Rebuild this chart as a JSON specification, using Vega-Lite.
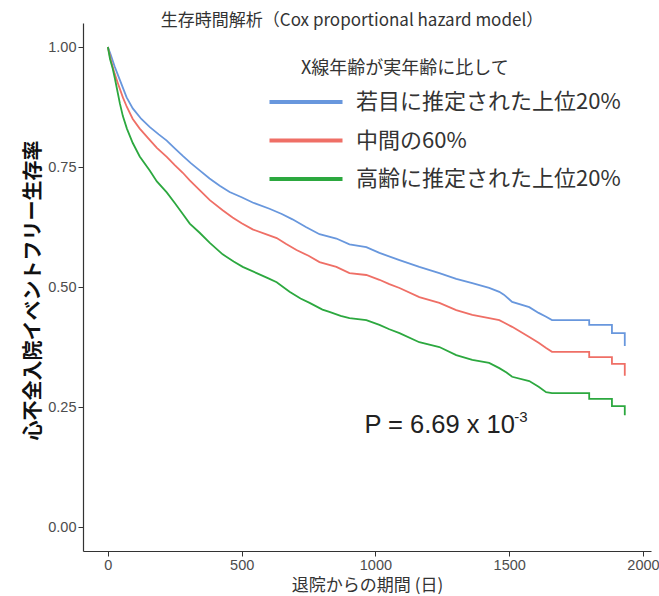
{
  "$schema": "https://vega.github.io/schema/vega-lite/v6.json",
  "width": 568,
  "height": 528,
  "autosize": {"type": "none"},
  "padding": {"left": 83, "top": 23, "right": 8, "bottom": 45},
  "background": "white",
  "config": {"view": {"stroke": null}},
  "title": {
    "text": "生存時間解析（Cox proportional hazard model）",
    "font": "Noto Sans CJK JP",
    "fontSize": 17,
    "fontWeight": "normal",
    "color": "#333333",
    "anchor": "middle",
    "frame": "group",
    "dx": -15,
    "baseline": "middle",
    "offset": -15
  },
  "datasets": {
    "km": [
      {"g": "若目に推定された上位20%", "i": 1, "t": 0, "s": 1.0},
      {"g": "若目に推定された上位20%", "i": 2, "t": 10, "s": 0.985},
      {"g": "若目に推定された上位20%", "i": 3, "t": 25, "s": 0.96},
      {"g": "若目に推定された上位20%", "i": 4, "t": 45, "s": 0.931},
      {"g": "若目に推定された上位20%", "i": 5, "t": 70, "s": 0.895},
      {"g": "若目に推定された上位20%", "i": 6, "t": 93, "s": 0.872},
      {"g": "若目に推定された上位20%", "i": 7, "t": 125, "s": 0.85},
      {"g": "若目に推定された上位20%", "i": 8, "t": 157, "s": 0.833},
      {"g": "若目に推定された上位20%", "i": 9, "t": 190, "s": 0.818},
      {"g": "若目に推定された上位20%", "i": 10, "t": 220, "s": 0.805},
      {"g": "若目に推定された上位20%", "i": 11, "t": 250, "s": 0.789},
      {"g": "若目に推定された上位20%", "i": 12, "t": 280, "s": 0.773},
      {"g": "若目に推定された上位20%", "i": 13, "t": 310, "s": 0.758},
      {"g": "若目に推定された上位20%", "i": 14, "t": 343, "s": 0.743},
      {"g": "若目に推定された上位20%", "i": 15, "t": 380, "s": 0.726},
      {"g": "若目に推定された上位20%", "i": 16, "t": 418, "s": 0.711},
      {"g": "若目に推定された上位20%", "i": 17, "t": 455, "s": 0.698},
      {"g": "若目に推定された上位20%", "i": 18, "t": 500, "s": 0.687},
      {"g": "若目に推定された上位20%", "i": 19, "t": 541, "s": 0.676},
      {"g": "若目に推定された上位20%", "i": 20, "t": 604, "s": 0.663},
      {"g": "若目に推定された上位20%", "i": 21, "t": 650, "s": 0.652},
      {"g": "若目に推定された上位20%", "i": 22, "t": 690, "s": 0.641},
      {"g": "若目に推定された上位20%", "i": 23, "t": 740, "s": 0.625},
      {"g": "若目に推定された上位20%", "i": 24, "t": 791, "s": 0.61},
      {"g": "若目に推定された上位20%", "i": 25, "t": 854, "s": 0.601},
      {"g": "若目に推定された上位20%", "i": 26, "t": 903, "s": 0.589},
      {"g": "若目に推定された上位20%", "i": 27, "t": 966, "s": 0.583},
      {"g": "若目に推定された上位20%", "i": 28, "t": 1015, "s": 0.571},
      {"g": "若目に推定された上位20%", "i": 29, "t": 1090, "s": 0.556},
      {"g": "若目に推定された上位20%", "i": 30, "t": 1164, "s": 0.542},
      {"g": "若目に推定された上位20%", "i": 31, "t": 1239, "s": 0.529},
      {"g": "若目に推定された上位20%", "i": 32, "t": 1302, "s": 0.517},
      {"g": "若目に推定された上位20%", "i": 33, "t": 1362, "s": 0.508},
      {"g": "若目に推定された上位20%", "i": 34, "t": 1425, "s": 0.498},
      {"g": "若目に推定された上位20%", "i": 35, "t": 1463, "s": 0.49},
      {"g": "若目に推定された上位20%", "i": 36, "t": 1480, "s": 0.484},
      {"g": "若目に推定された上位20%", "i": 37, "t": 1511, "s": 0.469},
      {"g": "若目に推定された上位20%", "i": 38, "t": 1575, "s": 0.458},
      {"g": "若目に推定された上位20%", "i": 39, "t": 1610, "s": 0.446},
      {"g": "若目に推定された上位20%", "i": 40, "t": 1638, "s": 0.438},
      {"g": "若目に推定された上位20%", "i": 41, "t": 1660, "s": 0.431},
      {"g": "若目に推定された上位20%", "i": 42, "t": 1799, "s": 0.431},
      {"g": "若目に推定された上位20%", "i": 43, "t": 1799, "s": 0.421},
      {"g": "若目に推定された上位20%", "i": 44, "t": 1884, "s": 0.421},
      {"g": "若目に推定された上位20%", "i": 45, "t": 1884, "s": 0.404},
      {"g": "若目に推定された上位20%", "i": 46, "t": 1932, "s": 0.404},
      {"g": "若目に推定された上位20%", "i": 47, "t": 1932, "s": 0.377},

      {"g": "中間の60%", "i": 1, "t": 0, "s": 1.0},
      {"g": "中間の60%", "i": 2, "t": 10, "s": 0.975},
      {"g": "中間の60%", "i": 3, "t": 25, "s": 0.945},
      {"g": "中間の60%", "i": 4, "t": 37, "s": 0.925},
      {"g": "中間の60%", "i": 5, "t": 56, "s": 0.895},
      {"g": "中間の60%", "i": 6, "t": 71, "s": 0.875},
      {"g": "中間の60%", "i": 7, "t": 93, "s": 0.85},
      {"g": "中間の60%", "i": 8, "t": 119, "s": 0.83},
      {"g": "中間の60%", "i": 9, "t": 157, "s": 0.806},
      {"g": "中間の60%", "i": 10, "t": 183, "s": 0.79},
      {"g": "中間の60%", "i": 11, "t": 220, "s": 0.771},
      {"g": "中間の60%", "i": 12, "t": 250, "s": 0.754},
      {"g": "中間の60%", "i": 13, "t": 280, "s": 0.738},
      {"g": "中間の60%", "i": 14, "t": 306, "s": 0.722},
      {"g": "中間の60%", "i": 15, "t": 343, "s": 0.702},
      {"g": "中間の60%", "i": 16, "t": 381, "s": 0.681},
      {"g": "中間の60%", "i": 17, "t": 429, "s": 0.66},
      {"g": "中間の60%", "i": 18, "t": 466, "s": 0.645},
      {"g": "中間の60%", "i": 19, "t": 500, "s": 0.633},
      {"g": "中間の60%", "i": 20, "t": 541, "s": 0.62},
      {"g": "中間の60%", "i": 21, "t": 590, "s": 0.61},
      {"g": "中間の60%", "i": 22, "t": 631, "s": 0.602},
      {"g": "中間の60%", "i": 23, "t": 665, "s": 0.59},
      {"g": "中間の60%", "i": 24, "t": 705, "s": 0.577},
      {"g": "中間の60%", "i": 25, "t": 750, "s": 0.565},
      {"g": "中間の60%", "i": 26, "t": 791, "s": 0.552},
      {"g": "中間の60%", "i": 27, "t": 854, "s": 0.542},
      {"g": "中間の60%", "i": 28, "t": 903, "s": 0.529},
      {"g": "中間の60%", "i": 29, "t": 966, "s": 0.525},
      {"g": "中間の60%", "i": 30, "t": 1015, "s": 0.515},
      {"g": "中間の60%", "i": 31, "t": 1052, "s": 0.506},
      {"g": "中間の60%", "i": 32, "t": 1090, "s": 0.498},
      {"g": "中間の60%", "i": 33, "t": 1164, "s": 0.479},
      {"g": "中間の60%", "i": 34, "t": 1239, "s": 0.467},
      {"g": "中間の60%", "i": 35, "t": 1302, "s": 0.452},
      {"g": "中間の60%", "i": 36, "t": 1362, "s": 0.442},
      {"g": "中間の60%", "i": 37, "t": 1425, "s": 0.435},
      {"g": "中間の60%", "i": 38, "t": 1463, "s": 0.431},
      {"g": "中間の60%", "i": 39, "t": 1480, "s": 0.426},
      {"g": "中間の60%", "i": 40, "t": 1511, "s": 0.417},
      {"g": "中間の60%", "i": 41, "t": 1575, "s": 0.396},
      {"g": "中間の60%", "i": 42, "t": 1610, "s": 0.384},
      {"g": "中間の60%", "i": 43, "t": 1638, "s": 0.373},
      {"g": "中間の60%", "i": 44, "t": 1660, "s": 0.365},
      {"g": "中間の60%", "i": 45, "t": 1799, "s": 0.365},
      {"g": "中間の60%", "i": 46, "t": 1799, "s": 0.354},
      {"g": "中間の60%", "i": 47, "t": 1884, "s": 0.354},
      {"g": "中間の60%", "i": 48, "t": 1884, "s": 0.34},
      {"g": "中間の60%", "i": 49, "t": 1932, "s": 0.34},
      {"g": "中間の60%", "i": 50, "t": 1932, "s": 0.315},

      {"g": "高齢に推定された上位20%", "i": 1, "t": 0, "s": 1.0},
      {"g": "高齢に推定された上位20%", "i": 2, "t": 8, "s": 0.975},
      {"g": "高齢に推定された上位20%", "i": 3, "t": 18, "s": 0.955},
      {"g": "高齢に推定された上位20%", "i": 4, "t": 26, "s": 0.935},
      {"g": "高齢に推定された上位20%", "i": 5, "t": 35, "s": 0.91},
      {"g": "高齢に推定された上位20%", "i": 6, "t": 45, "s": 0.882},
      {"g": "高齢に推定された上位20%", "i": 7, "t": 56, "s": 0.856},
      {"g": "高齢に推定された上位20%", "i": 8, "t": 71, "s": 0.83},
      {"g": "高齢に推定された上位20%", "i": 9, "t": 93, "s": 0.8},
      {"g": "高齢に推定された上位20%", "i": 10, "t": 119, "s": 0.772},
      {"g": "高齢に推定された上位20%", "i": 11, "t": 157, "s": 0.742},
      {"g": "高齢に推定された上位20%", "i": 12, "t": 183, "s": 0.72},
      {"g": "高齢に推定された上位20%", "i": 13, "t": 220, "s": 0.697},
      {"g": "高齢に推定された上位20%", "i": 14, "t": 250, "s": 0.675},
      {"g": "高齢に推定された上位20%", "i": 15, "t": 280, "s": 0.652},
      {"g": "高齢に推定された上位20%", "i": 16, "t": 306, "s": 0.632},
      {"g": "高齢に推定された上位20%", "i": 17, "t": 343, "s": 0.613},
      {"g": "高齢に推定された上位20%", "i": 18, "t": 381, "s": 0.592},
      {"g": "高齢に推定された上位20%", "i": 19, "t": 429, "s": 0.568},
      {"g": "高齢に推定された上位20%", "i": 20, "t": 470, "s": 0.553},
      {"g": "高齢に推定された上位20%", "i": 21, "t": 504, "s": 0.542},
      {"g": "高齢に推定された上位20%", "i": 22, "t": 556, "s": 0.529},
      {"g": "高齢に推定された上位20%", "i": 23, "t": 600, "s": 0.518},
      {"g": "高齢に推定された上位20%", "i": 24, "t": 631, "s": 0.51},
      {"g": "高齢に推定された上位20%", "i": 25, "t": 679, "s": 0.49},
      {"g": "高齢に推定された上位20%", "i": 26, "t": 720, "s": 0.476},
      {"g": "高齢に推定された上位20%", "i": 27, "t": 754, "s": 0.467},
      {"g": "高齢に推定された上位20%", "i": 28, "t": 802, "s": 0.453},
      {"g": "高齢に推定された上位20%", "i": 29, "t": 828, "s": 0.448},
      {"g": "高齢に推定された上位20%", "i": 30, "t": 870, "s": 0.44},
      {"g": "高齢に推定された上位20%", "i": 31, "t": 903, "s": 0.435},
      {"g": "高齢に推定された上位20%", "i": 32, "t": 966, "s": 0.431},
      {"g": "高齢に推定された上位20%", "i": 33, "t": 1015, "s": 0.421},
      {"g": "高齢に推定された上位20%", "i": 34, "t": 1052, "s": 0.412},
      {"g": "高齢に推定された上位20%", "i": 35, "t": 1090, "s": 0.404},
      {"g": "高齢に推定された上位20%", "i": 36, "t": 1164, "s": 0.385},
      {"g": "高齢に推定された上位20%", "i": 37, "t": 1239, "s": 0.375},
      {"g": "高齢に推定された上位20%", "i": 38, "t": 1302, "s": 0.358},
      {"g": "高齢に推定された上位20%", "i": 39, "t": 1362, "s": 0.348},
      {"g": "高齢に推定された上位20%", "i": 40, "t": 1425, "s": 0.342},
      {"g": "高齢に推定された上位20%", "i": 41, "t": 1463, "s": 0.331},
      {"g": "高齢に推定された上位20%", "i": 42, "t": 1490, "s": 0.322},
      {"g": "高齢に推定された上位20%", "i": 43, "t": 1511, "s": 0.313},
      {"g": "高齢に推定された上位20%", "i": 44, "t": 1575, "s": 0.304},
      {"g": "高齢に推定された上位20%", "i": 45, "t": 1610, "s": 0.292},
      {"g": "高齢に推定された上位20%", "i": 46, "t": 1638, "s": 0.281},
      {"g": "高齢に推定された上位20%", "i": 47, "t": 1660, "s": 0.279},
      {"g": "高齢に推定された上位20%", "i": 48, "t": 1799, "s": 0.279},
      {"g": "高齢に推定された上位20%", "i": 49, "t": 1799, "s": 0.267},
      {"g": "高齢に推定された上位20%", "i": 50, "t": 1884, "s": 0.267},
      {"g": "高齢に推定された上位20%", "i": 51, "t": 1884, "s": 0.252},
      {"g": "高齢に推定された上位20%", "i": 52, "t": 1932, "s": 0.252},
      {"g": "高齢に推定された上位20%", "i": 53, "t": 1932, "s": 0.233}
    ],
    "ann": [
      {"label": "P = 6.69 x 10", "sup": "-3"}
    ]
  },
  "layer": [
    {
      "data": {"name": "km"},
      "mark": {"type": "line", "strokeWidth": 1.8, "interpolate": "linear"},
      "encoding": {
        "x": {
          "field": "t",
          "type": "quantitative",
          "scale": {"domain": [-93, 2030], "nice": false, "zero": false},
          "axis": {
            "title": "退院からの期間 (日)",
            "values": [0, 500, 1000, 1500, 2000],
            "format": "d",
            "grid": false,
            "domainColor": "#333333",
            "domainWidth": 1.2,
            "tickColor": "#333333",
            "tickSize": 5,
            "labelFont": "Liberation Sans",
            "labelFontSize": 14.5,
            "labelColor": "#4d4d4d",
            "labelPadding": 2,
            "labelFlush": false,
            "titleFont": "Noto Sans CJK JP",
            "titleFontSize": 17,
            "titleFontWeight": "normal",
            "titleColor": "#333333",
            "titlePadding": 6
          }
        },
        "y": {
          "field": "s",
          "type": "quantitative",
          "scale": {"domain": [-0.05, 1.05], "nice": false, "zero": false},
          "axis": {
            "title": "心不全入院イベントフリー生存率",
            "values": [0, 0.25, 0.5, 0.75, 1],
            "format": ".2f",
            "grid": false,
            "domainColor": "#333333",
            "domainWidth": 1.2,
            "tickColor": "#333333",
            "tickSize": 5,
            "labelFont": "Liberation Sans",
            "labelFontSize": 14.5,
            "labelColor": "#4d4d4d",
            "labelPadding": 2,
            "titleFont": "Noto Sans CJK JP",
            "titleFontSize": 20,
            "titleFontWeight": "bold",
            "titleColor": "#111111",
            "titleX": -50,
            "titleY": 267,
            "titleBaseline": "middle",
            "titleAngle": -90
          }
        },
        "color": {
          "field": "g",
          "type": "nominal",
          "scale": {
            "domain": ["若目に推定された上位20%", "中間の60%", "高齢に推定された上位20%"],
            "range": ["#6897DD", "#EF6F66", "#2CA83F"]
          },
          "legend": {
            "orient": "none",
            "legendX": 206,
            "legendY": 37,
            "title": "X線年齢が実年齢に比して",
            "titleFont": "Noto Sans CJK JP",
            "titleFontSize": 18,
            "titleFontWeight": "normal",
            "titleColor": "#333333",
            "titleLimit": 400,
            "titlePadding": 7,
            "labelFont": "Noto Sans CJK JP",
            "labelFontSize": 22,
            "labelColor": "#333333",
            "labelLimit": 400,
            "labelOffset": 33,
            "symbolType": "M-2.5,0H2.5",
            "symbolSize": 853,
            "symbolStrokeWidth": 4,
            "rowPadding": 10.5,
            "padding": 0,
            "offset": 0,
            "encode": {
              "title": {"update": {"dx": {"value": 12}}},
              "symbols": {
                "update": {
                  "fill": {"value": "transparent"},
                  "stroke": {"signal": "datum.value === '若目に推定された上位20%' ? '#2E78C7' : datum.value === '中間の60%' ? '#C8302C' : '#26A846'"}
                }
              }
            }
          }
        },
        "order": {"field": "i", "type": "quantitative"}
      }
    },
    {
      "data": {"name": "ann"},
      "mark": {"type": "text", "font": "Liberation Sans", "fontSize": 25.5, "align": "left", "baseline": "alphabetic", "color": "#222222"},
      "encoding": {
        "x": {"datum": 959, "type": "quantitative"},
        "y": {"datum": 0.196, "type": "quantitative"},
        "text": {"field": "label", "type": "nominal"}
      }
    },
    {
      "data": {"name": "ann"},
      "mark": {"type": "text", "font": "Liberation Sans", "fontSize": 15, "align": "left", "baseline": "alphabetic", "color": "#222222"},
      "encoding": {
        "x": {"datum": 1519, "type": "quantitative"},
        "y": {"datum": 0.218, "type": "quantitative"},
        "text": {"field": "sup", "type": "nominal"}
      }
    }
  ]
}
